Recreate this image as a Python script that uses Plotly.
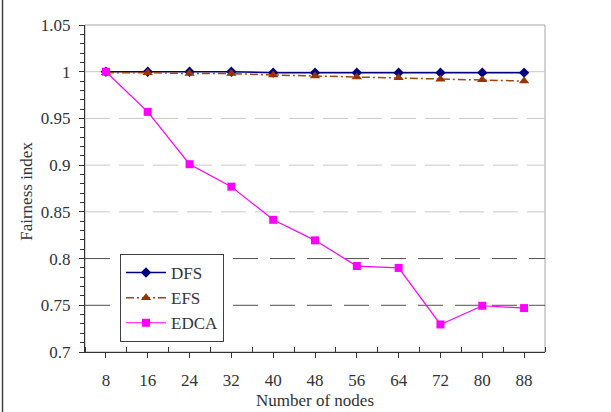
import plotly.graph_objects as go

categories = ["8", "16", "24", "32", "40", "48", "56", "64", "72", "80", "88"]
dfs = [1.000, 1.000, 1.000, 1.000, 0.999, 0.999, 0.999, 0.999, 0.999, 0.999, 0.999]
efs = [0.999, 0.999, 0.998, 0.998, 0.9965, 0.9955, 0.9943, 0.9936, 0.992, 0.9914, 0.990]
edca = [1.000, 0.957, 0.901, 0.877, 0.8415, 0.8195, 0.792, 0.790, 0.7295, 0.7495, 0.747]

grid_solid = [1.0]
grid_light = [0.95, 0.9, 0.85]
grid_dark = [0.8, 0.75]

xpos = list(range(len(categories)))
FONT = "Liberation Serif"

fig = go.Figure()
fig.add_trace(go.Scatter(x=xpos, y=dfs, name="DFS", mode="lines+markers",
                         line=dict(color="#000080", width=1.5),
                         marker=dict(symbol="diamond", size=8, color="#000080")))
fig.add_trace(go.Scatter(x=xpos, y=efs, name="EFS", mode="lines+markers",
                         line=dict(color="#a0460f", width=1.5, dash="8px,3px,2px,3px"),
                         marker=dict(symbol="triangle-up", size=9, color="#993300")))
fig.add_trace(go.Scatter(x=xpos, y=edca, name="EDCA", mode="lines+markers",
                         line=dict(color="#ff00ff", width=1.2),
                         marker=dict(symbol="square", size=8, color="#ff00ff")))

shapes = []
shapes.append(dict(type="rect", xref="paper", yref="paper", x0=0, x1=1, y0=0, y1=1,
                   line=dict(color="#a6a6a6", width=1), layer="below"))
for v in grid_solid:
    shapes.append(dict(type="line", xref="paper", yref="y", x0=0, x1=1, y0=v, y1=v,
                       line=dict(color="#c8c8c8", width=1), layer="below"))
for v in grid_light:
    shapes.append(dict(type="line", xref="paper", yref="y", x0=0, x1=1, y0=v, y1=v,
                       line=dict(color="#c8c8c8", width=1, dash="25px,9px"), layer="below"))
for v in grid_dark:
    shapes.append(dict(type="line", xref="paper", yref="y", x0=0, x1=1, y0=v, y1=v,
                       line=dict(color="#505050", width=1, dash="25px,12px"), layer="below"))
shapes.append(dict(type="line", xref="paper", yref="paper",
                   x0=(2.5 - 85) / 460, x1=(2.5 - 85) / 460,
                   y0=(352 - 0) / 327, y1=(352 - 412) / 327,
                   line=dict(color="#404040", width=1.5)))

fig.update_layout(
    width=611, height=412, template="none",
    margin=dict(l=85, r=66, t=25, b=60),
    paper_bgcolor="white", plot_bgcolor="white",
    font=dict(family=FONT, size=16, color="#333333"),
    shapes=shapes,
    showlegend=True,
    legend=dict(x=(120 - 85) / 460, y=(352 - 254) / 327, xanchor="left", yanchor="top",
                bgcolor="white", bordercolor="#404040", borderwidth=1,
                font=dict(family=FONT, size=17, color="#333333"),
                tracegroupgap=0, itemwidth=40),
    xaxis=dict(range=[-0.5, 10.5], tickmode="array", tickvals=xpos, ticktext=categories,
               showgrid=False, zeroline=False, showline=True, linecolor="#333333", linewidth=1,
               ticks="outside", ticklen=5, tickcolor="#333333", ticklabelstandoff=8,
               minor=dict(ticks="inside", tick0=-0.5, dtick=1, ticklen=5, tickcolor="#333333",
                          showgrid=False),
               tickfont=dict(family=FONT, size=17, color="#333333")),
    yaxis=dict(range=[0.7, 1.05], dtick=0.05, tick0=0.7,
               showgrid=False, zeroline=False, showline=True, linecolor="#333333", linewidth=1,
               ticks="outside", ticklen=5, tickcolor="#333333", ticklabelstandoff=5,
               minor=dict(ticks="outside", dtick=0.01, ticklen=4, tickcolor="#333333",
                          showgrid=False),
               tickfont=dict(family=FONT, size=17, color="#333333")),
    annotations=[
        dict(text="Number of nodes", xref="paper", yref="paper",
             x=0.5, y=(352 - 400) / 327, xanchor="center", yanchor="middle",
             showarrow=False, font=dict(family=FONT, size=17, color="#333333")),
        dict(text="Fairness index", xref="paper", yref="paper",
             x=(27 - 85) / 460, y=0.49, xanchor="center", yanchor="middle", textangle=-90,
             showarrow=False, font=dict(family=FONT, size=17, color="#333333")),
    ],
)

fig.write_html("out.html")
